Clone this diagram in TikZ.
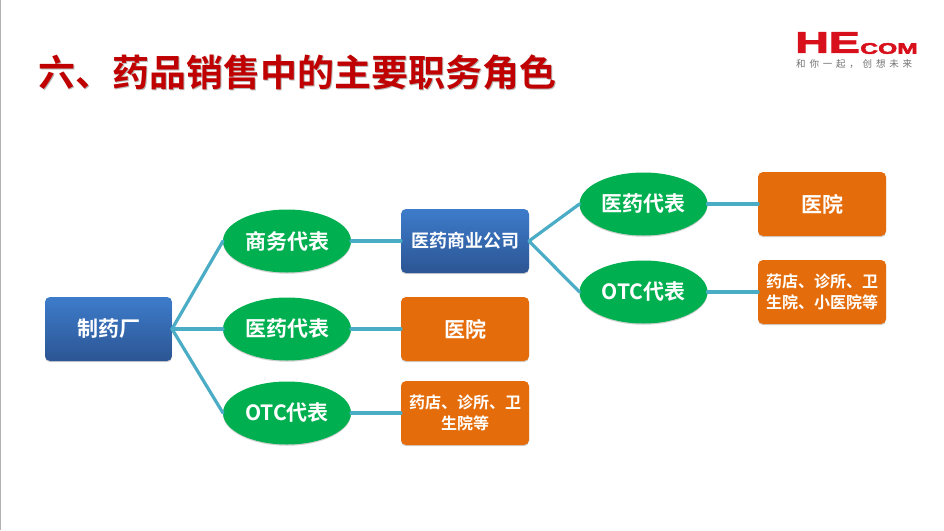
\documentclass[tikz,border=0pt]{standalone}
\usepackage{fontspec}
\setmainfont{Noto Sans CJK SC}[BoldFont={* Bold}]
\newfontfamily\logofont{Liberation Sans Bold}[FakeBold=2.5]
\newfontfamily\tagfont{Noto Sans CJK SC}[LetterSpace=40]
\usetikzlibrary{shapes.geometric,shadows}
\definecolor{linkc}{HTML}{4BACC6}
\definecolor{greenc}{HTML}{00B050}
\definecolor{orangec}{HTML}{E46C0A}
\definecolor{bluetop}{HTML}{3D7CCB}
\definecolor{bluebot}{HTML}{2C5593}
\definecolor{titlec}{HTML}{C00000}
\definecolor{logoc}{HTML}{D8101C}
\tikzset{
  x=1pt,y=-1pt,
  softshadow/.style={drop shadow={shadow xshift=0pt,shadow yshift=-1.2pt,opacity=.18,fill=black}},
  base/.style={text=white,font=\bfseries\fontsize{21}{24}\selectfont,align=center,inner sep=0pt,outer sep=0pt,softshadow},
  bluebox/.style={base,rectangle,rounded corners=5pt,minimum width=127pt,minimum height=64pt,top color=bluetop,bottom color=bluebot},
  orangebox/.style={base,rectangle,rounded corners=5pt,minimum width=128pt,minimum height=64pt,fill=orangec},
  oval/.style={base,ellipse,minimum width=128pt,minimum height=63pt,fill=greenc},
  smalltext/.style={font=\bfseries\fontsize{16}{20.5}\selectfont,text width=118pt},
  link/.style={draw=linkc,line width=3.2pt,line cap=round},
}
\begin{document}
\begin{tikzpicture}
\useasboundingbox (0,0) rectangle (944,530);
\fill[white] (0,0) rectangle (944,530);
\draw[black!30,line width=.8pt] (0.4,0) -- (0.4,530);
% title
\node[anchor=west,inner sep=0pt,text=black!28,font=\bfseries\fontsize{37}{40}\selectfont] (titleshadow) at (39,73) {六、药品销售中的主要职务角色};
\node[anchor=west,inner sep=0pt,text=titlec,font=\bfseries\fontsize{37}{40}\selectfont] (title) at (38,72) {六、药品销售中的主要职务角色};
% logo
\node[anchor=west,inner sep=0pt,text=logoc,font=\logofont\fontsize{30}{30}\selectfont,xscale=1.55] (logohe) at (795,42.5) {HE};
\node[anchor=west,inner sep=0pt,text=logoc,font=\logofont\fontsize{15.4}{16}\selectfont,xscale=1.6] (logocom) at (860,48.5) {COM};
\node[anchor=west,inner sep=0pt,text=black!55,font=\tagfont\fontsize{9.5}{10}\selectfont] (logotag) at (796,64) {和你一起，创想未来};
% nodes
\node[bluebox] (f) at (108.5,329) {制药厂};
\node[oval] (a1) at (287,241) {商务代表};
\node[oval] (a2) at (287,329) {医药代表};
\node[oval] (a3) at (287,413) {OTC代表};
\node[bluebox,font=\bfseries\fontsize{18}{22}\selectfont,minimum width=128pt] (b1) at (465,241) {医药商业公司};
\node[orangebox] (b2) at (465,329) {医院};
\node[orangebox,smalltext] (b3) at (465,413) {药店、诊所、卫\\生院等};
\node[oval] (c1) at (643.5,204) {医药代表};
\node[oval] (c2) at (643.5,292) {OTC代表};
\node[orangebox] (d1) at (822,204) {医院};
\node[orangebox,smalltext] (d2) at (822,292) {药店、诊所、卫\\生院、小医院等};
% connectors
\draw[link] (f.east) -- (a1.west);
\draw[link] (f.east) -- (a2.west);
\draw[link] (f.east) -- (a3.west);
\draw[link] (a1.east) -- (b1.west);
\draw[link] (a2.east) -- (b2.west);
\draw[link] (a3.east) -- (b3.west);
\draw[link] (b1.east) -- (c1.west);
\draw[link] (b1.east) -- (c2.west);
\draw[link] (c1.east) -- (d1.west);
\draw[link] (c2.east) -- (d2.west);
\end{tikzpicture}
\end{document}
